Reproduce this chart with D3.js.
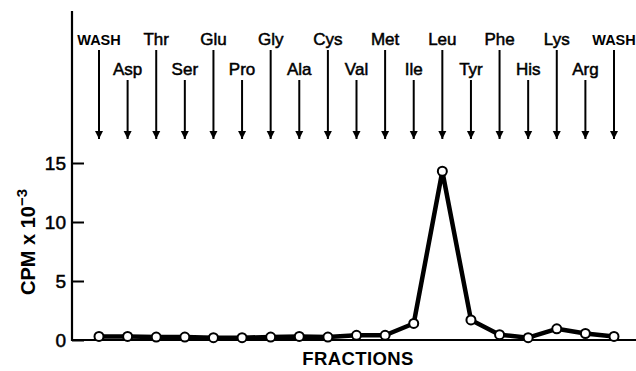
<!DOCTYPE html>
<html>
<head>
<meta charset="utf-8">
<script src="https://cdn.jsdelivr.net/npm/d3@7"></script>
<style>
  body { margin: 0; background: #fff; }
  svg { display: block; font-family: "Liberation Sans", Arial, sans-serif; }
</style>
</head>
<body>
<svg id="chart"></svg>
<script>
// fractions, each marked by an arrow with the amino acid eluted there
const fractions = ["WASH", "Asp", "Thr", "Ser", "Glu", "Pro", "Gly", "Ala", "Cys", "Val",
                   "Met", "Ile", "Leu", "Tyr", "Phe", "His", "Lys", "Arg", "WASH"];
// CPM x 10^-3 for each fraction
const cpm = [0.3, 0.3, 0.25, 0.25, 0.2, 0.2, 0.25, 0.3, 0.25, 0.4,
             0.4, 1.4, 14.3, 1.7, 0.45, 0.2, 0.95, 0.55, 0.3];
const yTicks = [0, 5, 10, 15];

const width = 636, height = 371;
const svg = d3.select("#chart").attr("width", width).attr("height", height);

const x = d3.scalePoint().domain(d3.range(fractions.length)).range([99, 614]);
const y = d3.scaleLinear().domain([0, 15]).range([340, 163]);

// axes lines
svg.append("line")
    .attr("x1", 72).attr("x2", 72).attr("y1", 11).attr("y2", y(0) + 1)
    .attr("stroke", "#000").attr("stroke-width", 2.2);
svg.append("line")
    .attr("x1", 71).attr("x2", 636).attr("y1", y(0)).attr("y2", y(0))
    .attr("stroke", "#000").attr("stroke-width", 2.2);

// y axis ticks (inward) and labels
const yAxis = svg.append("g")
    .attr("transform", "translate(72,0)")
    .call(d3.axisLeft(y).tickValues(yTicks).tickSizeInner(-12).tickSizeOuter(0).tickPadding(6));
yAxis.select(".domain").remove();
yAxis.selectAll(".tick line").attr("stroke", "#000").attr("stroke-width", 2);
yAxis.selectAll(".tick text")
    .attr("fill", "#000")
    .attr("stroke", "#000").attr("stroke-width", 0.5)
    .style("font-size", "19px")
    .attr("dy", "0.36em");

// y label
svg.append("text")
    .attr("transform", "translate(35,242) rotate(-90)")
    .attr("text-anchor", "middle")
    .style("font-size", "20px")
    .style("font-weight", "bold")
    .call(t => {
        t.append("tspan").text("CPM x 10");
        t.append("tspan").attr("dy", -8).style("font-size", "15px").text("\u22123");
    });

// x label
svg.append("text")
    .attr("x", 358).attr("y", 365)
    .attr("text-anchor", "middle")
    .style("font-size", "18.5px")
    .style("font-weight", "bold")
    .style("letter-spacing", "0.4px")
    .text("FRACTIONS");

// arrows with labels
svg.append("defs").append("marker")
    .attr("id", "head")
    .attr("viewBox", "0 0 10 10")
    .attr("refX", 10).attr("refY", 5)
    .attr("markerWidth", 4).attr("markerHeight", 4.5)
    .attr("orient", "auto")
    .attr("markerUnits", "strokeWidth")
    .append("path").attr("d", "M0,0L10,5L0,10Z").attr("fill", "#000");

const arrows = svg.selectAll(".arrow")
    .data(fractions)
    .enter().append("g")
    .attr("class", "arrow")
    .attr("transform", (d, i) => `translate(${x(i)},0)`);

arrows.append("line")
    .attr("y1", (d, i) => i % 2 === 0 ? 50 : 80)
    .attr("y2", 139)
    .attr("stroke", "#000")
    .attr("stroke-width", 2)
    .attr("marker-end", "url(#head)");

arrows.append("text")
    .attr("y", (d, i) => i % 2 === 0 ? 45 : 75)
    .attr("text-anchor", "middle")
    .style("font-size", d => d === "WASH" ? "14.5px" : "17px")
    .style("font-weight", d => d === "WASH" ? "bold" : "normal")
    .attr("stroke", d => d === "WASH" ? "none" : "#000")
    .attr("stroke-width", 0.5)
    .text(d => d);

// data line and points
const line = d3.line().x((d, i) => x(i)).y(d => y(d));
svg.append("path")
    .datum(cpm)
    .attr("d", line)
    .attr("fill", "none")
    .attr("stroke", "#000")
    .attr("stroke-width", 4.5)
    .attr("stroke-linejoin", "round");

svg.selectAll(".pt")
    .data(cpm)
    .enter().append("circle")
    .attr("class", "pt")
    .attr("cx", (d, i) => x(i))
    .attr("cy", d => y(d))
    .attr("r", 4.5)
    .attr("fill", "#fff")
    .attr("stroke", "#000")
    .attr("stroke-width", 2);
</script>
</body>
</html>
